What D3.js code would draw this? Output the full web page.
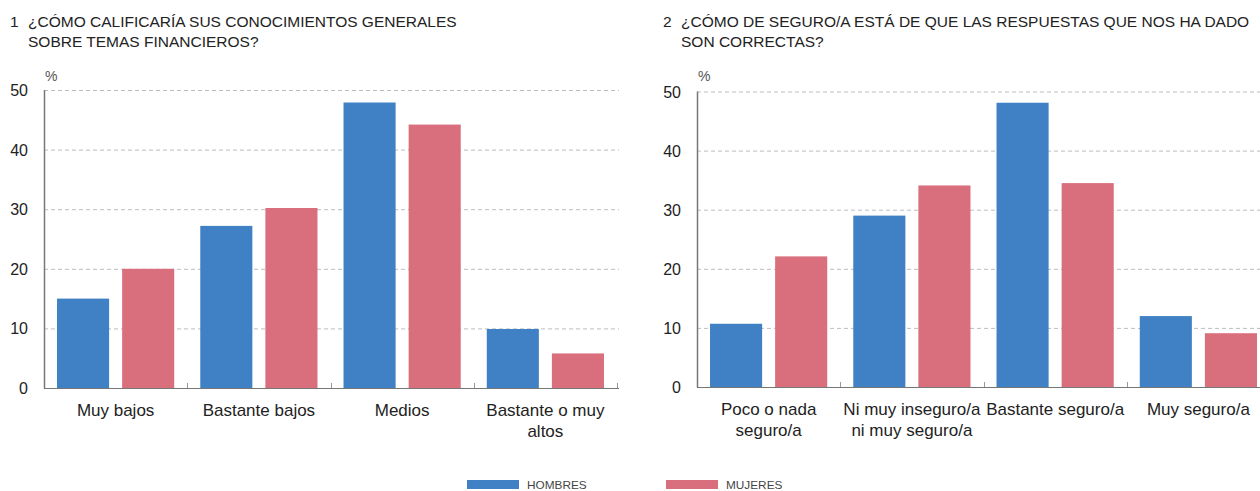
<!DOCTYPE html>
<html>
<head>
<meta charset="utf-8">
<script src="https://cdn.jsdelivr.net/npm/d3@7"></script>
<style>
  body { margin: 0; background: #fff; }
  text { font-family: "Liberation Sans", Arial, sans-serif; fill: #222; }
</style>
</head>
<body>
<div id="chart"></div>
<script>
// Data
var series = ["HOMBRES", "MUJERES"];
var colors = ["#4080c4", "#d96e7c"];

var cats1 = [["Muy bajos"], ["Bastante bajos"], ["Medios"], ["Bastante o muy", "altos"]];
var hombres1 = [15, 27.2, 47.9, 9.9];
var mujeres1 = [20, 30.2, 44.2, 5.8];

var cats2 = [["Poco o nada", "seguro/a"], ["Ni muy inseguro/a", "ni muy seguro/a"], ["Bastante seguro/a"], ["Muy seguro/a"]];
var hombres2 = [10.7, 29, 48.1, 12];
var mujeres2 = [22.1, 34.1, 34.5, 9.1];

var yTicks = [0, 10, 20, 30, 40, 50];

// Space
var width = 1260,
    height = 491;

var svg = d3.select("#chart")
            .append("svg")
              .attr("width", width)
              .attr("height", height);

function drawPanel(left, top, bottom, num, titleLines, cats, values) {
  var plotW = 573;
  var g = svg.append("g").attr("transform", "translate(" + left + ",0)");

  var scaleX = d3.scaleBand()
                 .domain(d3.range(cats.length))
                 .range([0, plotW])
                 .padding(0);

  var scaleSub = d3.scaleBand()
                   .domain(series)
                   .range([0, scaleX.bandwidth()])
                   .paddingInner(0.2)
                   .paddingOuter(0.2);

  var scaleY = d3.scaleLinear()
                 .domain([0, 50])
                 .range([bottom, top]);

  // Title
  g.append("text")
    .attr("x", -34)
    .attr("y", 27)
    .attr("font-size", 15.5)
    .text(num);
  titleLines.forEach(function(t, i) {
    g.append("text")
      .attr("x", -16)
      .attr("y", 27 + i * 20)
      .attr("font-size", 15.5)
      .attr("textLength", null)
      .text(t);
  });

  // % unit
  g.append("text")
    .attr("x", 1)
    .attr("y", 81)
    .attr("font-size", 14)
    .style("fill", "#555")
    .text("%");

  // Gridlines
  g.selectAll(".grid")
    .data(yTicks.filter(function(d) { return d > 0; }))
    .enter()
    .append("line")
      .attr("x1", 0)
      .attr("x2", plotW + 2)
      .attr("y1", function(d) { return scaleY(d) + 0.5; })
      .attr("y2", function(d) { return scaleY(d) + 0.5; })
      .attr("stroke", "#bdbdbd")
      .attr("stroke-dasharray", "4,3");

  // Y labels
  g.selectAll(".ylab")
    .data(yTicks)
    .enter()
    .append("text")
      .attr("x", -16)
      .attr("y", function(d) { return scaleY(d) + 6; })
      .attr("text-anchor", "end")
      .attr("font-size", 16)
      .text(function(d) { return d; });

  // Bars
  var groups = g.selectAll(".cat")
    .data(cats.map(function(c, i) { return i; }))
    .enter()
    .append("g")
      .attr("transform", function(i) { return "translate(" + scaleX(i) + ",0)"; });

  groups.selectAll("rect")
    .data(function(i) { return series.map(function(s, k) { return { s: s, k: k, v: values[k][i] }; }); })
    .enter()
    .append("rect")
      .attr("x", function(d) { return scaleSub(d.s); })
      .attr("width", scaleSub.bandwidth())
      .attr("y", function(d) { return scaleY(d.v); })
      .attr("height", function(d) { return bottom - scaleY(d.v); })
      .attr("fill", function(d) { return colors[d.k]; });

  // Axes
  g.append("line")
    .attr("x1", 0).attr("x2", plotW + 2)
    .attr("y1", bottom + 0.5).attr("y2", bottom + 0.5)
    .attr("stroke", "#777").attr("stroke-width", 1.2);
  g.append("line")
    .attr("x1", 0.5).attr("x2", 0.5)
    .attr("y1", top).attr("y2", bottom + 0.5)
    .attr("stroke", "#777").attr("stroke-width", 1.5);

  // Category separators
  g.selectAll(".sep")
    .data(d3.range(1, cats.length + 1))
    .enter()
    .append("line")
      .attr("x1", function(i) { return Math.round(i * scaleX.step()) + 0.5; })
      .attr("x2", function(i) { return Math.round(i * scaleX.step()) + 0.5; })
      .attr("y1", bottom - 5)
      .attr("y2", bottom)
      .attr("stroke", "#999");

  // Category labels
  cats.forEach(function(lines, i) {
    lines.forEach(function(t, j) {
      g.append("text")
        .attr("x", scaleX(i) + scaleX.bandwidth() / 2)
        .attr("y", bottom + 28 + j * 21)
        .attr("text-anchor", "middle")
        .attr("font-size", 17)
        .text(t);
    });
  });
}

drawPanel(44, 90, 388, "1", ["¿CÓMO CALIFICARÍA SUS CONOCIMIENTOS GENERALES", "SOBRE TEMAS FINANCIEROS?"], cats1, [hombres1, mujeres1]);
drawPanel(697, 91.5, 387, "2", ["¿CÓMO DE SEGURO/A ESTÁ DE QUE LAS RESPUESTAS QUE NOS HA DADO", "SON CORRECTAS?"], cats2, [hombres2, mujeres2]);

// Legend
var legend = svg.selectAll(".legend")
  .data(series)
  .enter()
  .append("g")
    .attr("transform", function(d, i) { return "translate(" + (467 + i * 199) + ",480)"; });

legend.append("rect")
  .attr("width", 52)
  .attr("height", 9)
  .attr("fill", function(d, i) { return colors[i]; });

legend.append("text")
  .attr("x", 60)
  .attr("y", 9)
  .attr("font-size", 11.8)
  .style("fill", "#444")
  .text(function(d) { return d; });
</script>
</body>
</html>
